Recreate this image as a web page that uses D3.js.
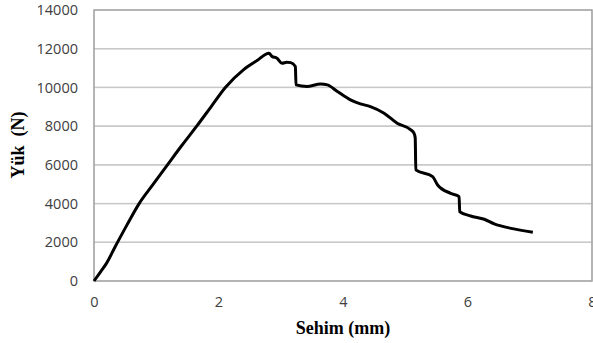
<!DOCTYPE html>
<html>
<head>
<meta charset="utf-8">
<script src="https://cdn.jsdelivr.net/npm/d3@7"></script>
<style>
  body { margin:0; background:#fff; }
</style>
</head>
<body>
<div id="chart-area"></div>
<script>
// load-deflection curve (mm, N)
var sehim = [0, 0.1, 0.2, 0.34, 0.53, 0.725, 0.94, 1.18, 1.41, 1.65, 1.88, 2.11, 2.4, 2.62, 2.81,
             2.86, 2.94, 3.02, 3.1, 3.16, 3.235, 3.245, 3.42, 3.64, 3.75, 3.91, 4.12,
             4.28, 4.44, 4.66, 4.87, 5.09, 5.14, 5.16, 5.17, 5.44, 5.52, 5.73, 5.865,
             5.875, 6.05, 6.27, 6.43, 6.7, 7.05];
var yuk   = [0, 450, 910, 1770, 2900, 4000, 4950, 6000, 7000, 8000, 9000, 10000, 10910, 11390, 11770,
             11600, 11510, 11250, 11300, 11280, 11080, 10130, 10050, 10180, 10130, 9790, 9360,
             9150, 9010, 8670, 8150, 7810, 7640, 7400, 5740, 5390, 4960, 4530, 4360,
             3580, 3360, 3190, 2950, 2720, 2520];
var xTicks = [0, 2, 4, 6, 8];
var yTicks = [0, 2000, 4000, 6000, 8000, 10000, 12000, 14000];

var data = sehim.map(function(d, i) { return { x: d, y: yuk[i] }; });

var margin = { left:94, right:1, top:10, bottom:62 };
var W = 593, H = 343;
var width = W - margin.left - margin.right,
    height = H - margin.top - margin.bottom;

var svg = d3.select("#chart-area").append("svg")
    .attr("width", W).attr("height", H);

var g = svg.append("g")
    .attr("transform", "translate(" + margin.left + "," + margin.top + ")");

var xScale = d3.scaleLinear().domain([0, 8]).range([0, width]);
var yScale = d3.scaleLinear().domain([0, 14000]).range([height, 0]);

// gridlines as stacked outlined bands, one per tick interval
var bands = yTicks.slice(0, -1).map(function(t, i) { return [t, yTicks[i + 1]]; });
g.selectAll("rect.band")
  .data(bands)
  .enter().append("rect")
  .attr("class", "band")
  .attr("x", 0)
  .attr("width", width)
  .attr("y", function(d) { return yScale(d[1]); })
  .attr("height", function(d) { return yScale(d[0]) - yScale(d[1]); })
  .attr("fill", "none")
  .attr("stroke", "#c8c8c8")
  .attr("stroke-width", 1.3);

// frame
g.append("rect")
  .attr("x", 0).attr("y", 0).attr("width", width).attr("height", height)
  .attr("fill", "none").attr("stroke", "#a0a0a0").attr("stroke-width", 1.3);

// y axis labels
g.append("g")
  .call(d3.axisLeft(yScale).tickValues(yTicks).tickSize(0).tickPadding(16).tickFormat(d3.format("d")))
  .call(function(a) {
    a.select(".domain").remove();
    a.selectAll("text").attr("font-family", "Open Sans").attr("font-size", "14.5px").attr("fill", "#404040");
  });

// x axis labels
g.append("g")
  .attr("transform", "translate(0," + height + ")")
  .call(d3.axisBottom(xScale).tickValues(xTicks).tickSize(0).tickPadding(16).tickFormat(d3.format("d")))
  .call(function(a) {
    a.select(".domain").remove();
    a.selectAll("text").attr("font-family", "Open Sans").attr("font-size", "14.5px").attr("fill", "#404040");
  });

// curve
var line = d3.line()
    .x(function(d) { return xScale(d.x); })
    .y(function(d) { return yScale(d.y); })
    .curve(d3.curveMonotoneX);
g.append("path")
  .datum(data)
  .attr("d", line)
  .attr("fill", "none")
  .attr("stroke", "#000")
  .attr("stroke-width", 3)
  .attr("stroke-linejoin", "round");

// axis titles
svg.append("text")
  .attr("x", 343).attr("y", 334)
  .attr("text-anchor", "middle")
  .attr("font-family", "Liberation Serif")
  .attr("font-weight", "bold")
  .attr("font-size", "18px")
  .text("Sehim (mm)");

svg.append("text")
  .attr("transform", "translate(24,145) rotate(-90)")
  .attr("text-anchor", "middle")
  .attr("font-family", "Liberation Serif")
  .attr("font-weight", "bold")
  .attr("font-size", "18px")
  .attr("xml:space", "preserve")
  .text("Yük  (N)");
</script>
</body>
</html>
